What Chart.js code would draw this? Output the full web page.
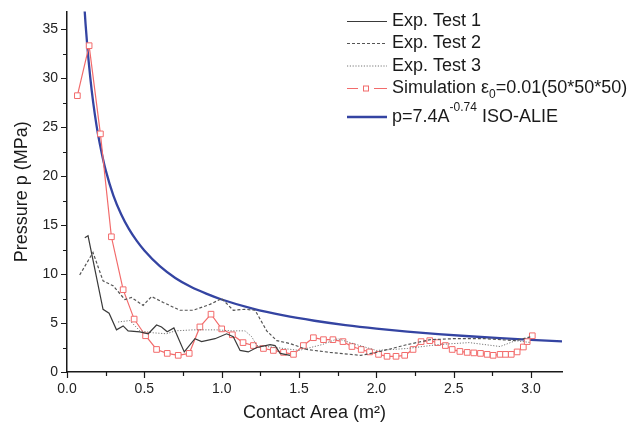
<!DOCTYPE html>
<html>
<head>
<meta charset="utf-8">
<script src="https://cdn.jsdelivr.net/npm/chart.js@4.4.0/dist/chart.umd.min.js"></script>
<style>
  html, body { margin: 0; padding: 0; background: #fff; }
  #wrap { width: 628px; height: 436px; }
</style>
</head>
<body>
<div id="wrap"><canvas id="chart" width="628" height="436"></canvas></div>
<script>
// ================== Data ==================
// contact area (m^2) / pressure (MPa) pairs
const test1Area = [0.115, 0.136, 0.233, 0.272, 0.32, 0.363, 0.395, 0.471, 0.525, 0.579, 0.611, 0.648, 0.691, 0.758, 0.827, 0.87, 0.957, 1.032, 1.075, 1.119, 1.172, 1.227, 1.313, 1.345, 1.378, 1.442];
const test1Pres = [13.7, 13.9, 6.4, 6.0, 4.3, 4.7, 4.2, 4.1, 3.9, 4.8, 4.6, 4.1, 4.5, 2.05, 3.4, 3.1, 3.4, 3.9, 3.6, 2.2, 2.05, 2.5, 2.8, 2.7, 1.9, 1.7];

const test2Area = [0.082, 0.168, 0.233, 0.298, 0.374, 0.417, 0.492, 0.547, 0.622, 0.73, 0.816, 0.924, 1.0, 1.075, 1.151, 1.216, 1.291, 1.356, 1.442, 1.55, 1.7, 1.9, 2.0, 2.2, 2.35, 2.5, 2.7, 2.9, 3.0];
const test2Pres = [9.9, 12.2, 9.3, 8.8, 7.4, 7.6, 6.8, 7.7, 7.1, 6.3, 6.3, 6.9, 7.5, 6.3, 6.4, 6.3, 4.2, 3.2, 2.9, 2.3, 2.0, 1.7, 2.0, 2.8, 3.3, 3.4, 3.4, 3.2, 3.6];

const test3Area = [0.33, 0.406, 0.471, 0.557, 0.644, 0.7, 0.816, 0.967, 1.065, 1.151, 1.194, 1.227, 1.35, 1.5, 1.65, 1.75, 1.85, 2.0, 2.2, 2.4, 2.6, 2.8, 2.9, 3.0];
const test3Pres = [5.1, 5.25, 4.2, 4.0, 3.9, 4.2, 4.3, 4.3, 4.2, 4.2, 3.6, 2.7, 2.5, 2.2, 2.8, 3.4, 2.9, 2.2, 2.4, 2.8, 3.0, 2.6, 3.2, 3.0];

const simArea = [0.067, 0.143, 0.216, 0.287, 0.363, 0.434, 0.508, 0.579, 0.648, 0.719, 0.79, 0.859, 0.931, 1.0, 1.069, 1.138, 1.205, 1.27, 1.334, 1.4, 1.464, 1.528, 1.593, 1.658, 1.719, 1.784, 1.842, 1.902, 1.956, 2.014, 2.069, 2.127, 2.183, 2.237, 2.289, 2.345, 2.396, 2.446, 2.49, 2.54, 2.587, 2.63, 2.673, 2.716, 2.755, 2.8, 2.835, 2.872, 2.91, 2.95, 2.975, 3.008];
const simPres = [28.2, 33.3, 24.3, 13.8, 8.4, 5.4, 3.7, 2.3, 1.9, 1.7, 1.9, 4.6, 5.9, 4.4, 3.8, 3.0, 2.7, 2.4, 2.2, 2.0, 1.8, 2.7, 3.5, 3.3, 3.3, 3.1, 2.6, 2.3, 2.05, 1.8, 1.6, 1.6, 1.7, 2.3, 3.1, 3.2, 3.0, 2.7, 2.3, 2.1, 2.0, 1.95, 1.9, 1.8, 1.7, 1.8, 1.8, 1.8, 2.05, 2.55, 3.1, 3.7];

// fitted curve p = 7.4 A^-0.74
const fitArea = [0.11, 0.12, 0.13, 0.14, 0.16, 0.18, 0.2, 0.225, 0.25, 0.3, 0.35, 0.4, 0.45, 0.5, 0.6, 0.7, 0.8, 0.9, 1.0, 1.2, 1.4, 1.6, 1.8, 2.0, 2.2, 2.4, 2.6, 2.8, 3.0, 3.2];
const fitPres = [37.9, 35.5, 33.5, 31.7, 28.7, 26.3, 24.3, 22.3, 20.6, 18.0, 16.1, 14.6, 13.4, 12.4, 10.8, 9.6, 8.7, 8.0, 7.4, 6.47, 5.77, 5.23, 4.79, 4.43, 4.13, 3.87, 3.65, 3.45, 3.28, 3.13];

const xTicks = [0, 0.5, 1.0, 1.5, 2.0, 2.5, 3.0];
const yTicks = [0, 5, 10, 15, 20, 25, 30, 35];

// ================== Helpers ==================
const toPoints = (xs, ys) => xs.map((x, i) => ({ x: x, y: ys[i] }));
const isMajor = (v, list) => list.some((t) => Math.abs(t - v) < 1e-6);

const FONT = "'Liberation Sans', Arial, sans-serif";
const AXIS = "#1a1a1a";
const RED = "#f26b6b";
const BLUE = "#3444a2";

// ================== Tick marks (major long, minor short) ==================
const tickPlugin = {
  id: "tickMarks",
  afterDraw(chart) {
    const ctx = chart.ctx;
    const xs = chart.scales.x, ys = chart.scales.y;
    ctx.save();
    ctx.strokeStyle = AXIS;
    ctx.lineWidth = 1.2;
    ctx.beginPath();
    xs.ticks.forEach((t) => {
      const px = Math.round(xs.getPixelForValue(t.value)) + 0.5;
      const len = isMajor(t.value, xTicks) ? 6 : 4;
      ctx.moveTo(px, xs.top);
      ctx.lineTo(px, xs.top + len);
    });
    ys.ticks.forEach((t) => {
      const py = Math.round(ys.getPixelForValue(t.value)) + 0.5;
      const len = isMajor(t.value, yTicks) ? 6 : 4;
      ctx.moveTo(ys.right, py);
      ctx.lineTo(ys.right - len, py);
    });
    ctx.stroke();
    ctx.restore();
  },
};

// ================== Legend (drawn on canvas) ==================
const legendPlugin = {
  id: "customLegend",
  afterDraw(chart) {
    const ctx = chart.ctx;
    const x0 = 347, x1 = 387, tx = 392;
    ctx.save();
    ctx.textBaseline = "middle";
    ctx.fillStyle = "#1a1a1a";
    ctx.font = "18px " + FONT;

    const row = (y, color, width, dash) => {
      ctx.beginPath();
      ctx.setLineDash(dash);
      ctx.strokeStyle = color;
      ctx.lineWidth = width;
      ctx.moveTo(x0, y);
      ctx.lineTo(x1, y);
      ctx.stroke();
      ctx.setLineDash([]);
    };

    row(21.5, "#3a3a3a", 1.2, []);
    ctx.fillText("Exp. Test 1", tx, 21.5);
    row(43.5, "#555", 1.2, [3, 2]);
    ctx.fillText("Exp. Test 2", tx, 43.5);
    row(66, "#777", 1, [1.2, 1.6]);
    ctx.fillText("Exp. Test 3", tx, 66);

    // simulation row: line - square - line
    const ys = 88.5;
    ctx.strokeStyle = RED;
    ctx.lineWidth = 1.2;
    ctx.beginPath();
    ctx.moveTo(x0, ys); ctx.lineTo(358, ys);
    ctx.moveTo(374, ys); ctx.lineTo(x1, ys);
    ctx.stroke();
    ctx.lineWidth = 1;
    ctx.strokeRect(363.5, ys - 2.5, 5, 5);
    let cx = tx;
    ctx.fillStyle = "#1a1a1a";
    ctx.fillText("Simulation \u03b5", cx, ys);
    cx += ctx.measureText("Simulation \u03b5").width;
    ctx.font = "12px " + FONT;
    ctx.fillText("0", cx, ys + 6);
    cx += ctx.measureText("0").width;
    ctx.font = "18px " + FONT;
    ctx.fillText("=0.01(50*50*50)", cx, ys);

    // fitted curve row
    const yb = 117;
    row(yb, BLUE, 2.4, []);
    cx = tx;
    ctx.fillText("p=7.4A", cx, yb);
    cx += ctx.measureText("p=7.4A").width;
    ctx.font = "12px " + FONT;
    ctx.fillText("-0.74", cx, yb - 9);
    cx += ctx.measureText("-0.74").width;
    ctx.font = "18px " + FONT;
    ctx.fillText(" ISO-ALIE", cx, yb);
    ctx.restore();
  },
};

// ================== Chart ==================
const ctx = document.getElementById("chart").getContext("2d");
const chart = new Chart(ctx, {
  type: "scatter",
  data: {
    datasets: [
      {
        label: "Exp. Test 1",
        data: toPoints(test1Area, test1Pres),
        showLine: true,
        borderColor: "#3a3a3a",
        borderWidth: 1.2,
        pointRadius: 0,
      },
      {
        label: "Exp. Test 2",
        data: toPoints(test2Area, test2Pres),
        showLine: true,
        borderColor: "#555",
        borderWidth: 1.2,
        borderDash: [3, 2],
        pointRadius: 0,
      },
      {
        label: "Exp. Test 3",
        data: toPoints(test3Area, test3Pres),
        showLine: true,
        borderColor: "#777",
        borderWidth: 1,
        borderDash: [1.2, 1.6],
        pointRadius: 0,
      },
      {
        label: "Simulation",
        data: toPoints(simArea, simPres),
        showLine: true,
        borderColor: RED,
        borderWidth: 1.2,
        pointStyle: "rect",
        pointRadius: 4,
        pointBorderWidth: 1,
        pointBorderColor: RED,
        pointBackgroundColor: "#fff",
      },
      {
        label: "p=7.4A^-0.74 ISO-ALIE",
        data: toPoints(fitArea, fitPres),
        showLine: true,
        borderColor: BLUE,
        borderWidth: 2.3,
        cubicInterpolationMode: "monotone",
        pointRadius: 0,
      },
    ],
  },
  options: {
    responsive: false,
    animation: false,
    layout: { padding: { left: 0, top: 8, right: 66, bottom: 0 } },
    plugins: {
      legend: { display: false },
      tooltip: { enabled: false },
    },
    scales: {
      x: {
        type: "linear",
        min: 0,
        max: 3.2,
        afterFit: (scale) => { scale.height = 64; },
        border: { color: AXIS, width: 1.5 },
        grid: { drawOnChartArea: false, tickLength: 6, tickColor: "rgba(0,0,0,0)" },
        ticks: {
          stepSize: 0.25,
          includeBounds: false,
          autoSkip: false,
          maxRotation: 0,
          padding: 3,
          color: "#222",
          font: { family: FONT, size: 14 },
          callback: (v) => (isMajor(v, xTicks) ? v.toFixed(1) : ""),
        },
        title: {
          display: true,
          text: "Contact Area (m\u00b2)",
          color: "#1a1a1a",
          font: { family: FONT, size: 18 },
          padding: { top: 0, bottom: 12 },
        },
      },
      y: {
        type: "linear",
        min: 0,
        max: 36.8,
        afterFit: (scale) => { scale.width = 67; },
        border: { color: AXIS, width: 1.5 },
        grid: { drawOnChartArea: false, tickLength: 6, tickColor: "rgba(0,0,0,0)" },
        ticks: {
          stepSize: 2.5,
          includeBounds: false,
          autoSkip: false,
          padding: 3,
          color: "#222",
          font: { family: FONT, size: 14 },
          callback: (v) => (isMajor(v, yTicks) ? String(v) : ""),
        },
        title: {
          display: true,
          text: "Pressure p (MPa)",
          color: "#1a1a1a",
          font: { family: FONT, size: 18 },
          padding: { top: 11, bottom: 0 },
        },
      },
    },
  },
  plugins: [tickPlugin, legendPlugin],
});
</script>
</body>
</html>
